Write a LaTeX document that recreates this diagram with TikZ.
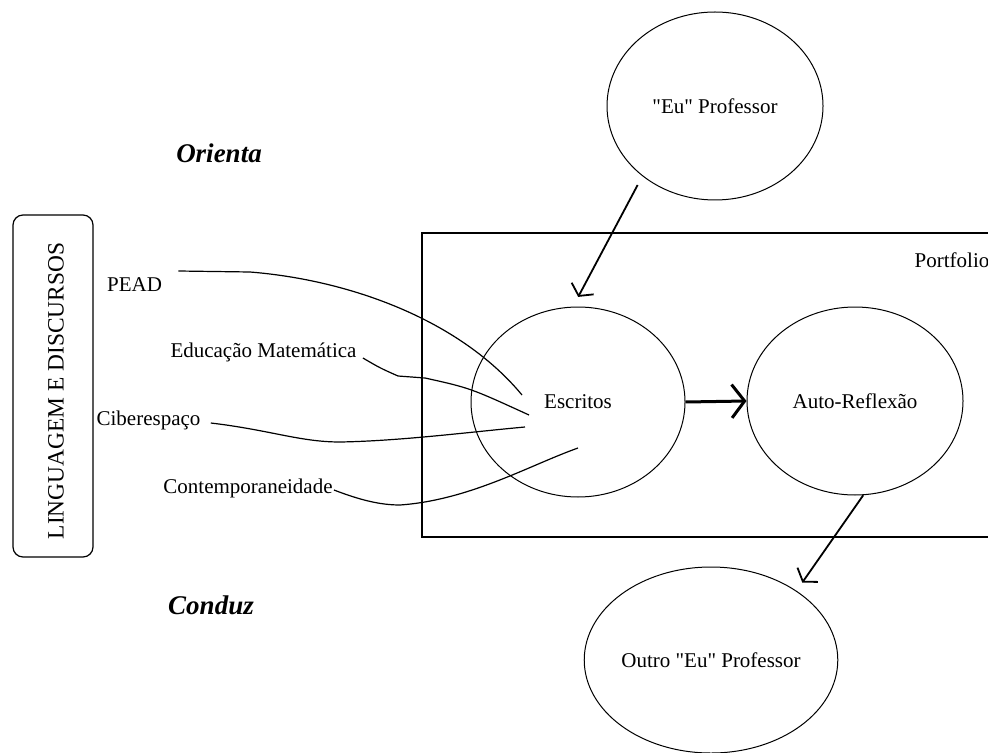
\documentclass[tikz,border=0pt]{standalone}
\usepackage{fontspec}
\setmainfont{Liberation Serif}
\usetikzlibrary{arrows.meta,shapes.geometric}

\begin{document}
\begin{tikzpicture}[x=0.5pt,y=-0.5pt,
    bola/.style={draw, ellipse, line width=0.5pt, inner sep=0pt, font=\fontsize{10.5}{12}\selectfont},
    rotulo/.style={inner sep=0pt, font=\fontsize{10.5}{12}\selectfont},
    verbo/.style={inner sep=0pt, font=\fontsize{13.5}{15}\selectfont\bfseries\itshape},
    fio/.style={line width=0.6pt},
    seta/.style={line width=0.9pt, -{Straight Barb[angle=112:7.5pt]}}]
    \useasboundingbox (0,0) rectangle (988,753);

    % caixa lateral
    \node[draw, rounded corners=5pt, minimum width=40pt, minimum height=171pt, line width=0.6pt] (ling) at (53,386) {};
    \node[rotate=90, inner sep=0pt, font=\fontsize{11.7}{13}\selectfont] (lingtxt) at (56,391) {LINGUAGEM E DISCURSOS};

    % verbos
    \node[verbo] (orienta) at (219,153) {Orienta};
    \node[verbo] (conduz) at (211,605) {Conduz};

    % moldura do portfolio
    \draw[line width=0.7pt] (995,233) -- (422,233) -- (422,537) -- (995,537);
    \node[rotulo] (port) at (952,260) {Portfolio};

    % elipses
    \node[bola, minimum width=108pt, minimum height=94pt] (eu) at (715,106) {\textquotedbl Eu\textquotedbl{} Professor};
    \node[bola, minimum width=107pt, minimum height=95pt] (esc) at (578,402) {Escritos};
    \node[bola, minimum width=108pt, minimum height=94pt] (auto) at (855,401) {Auto-Reflexão};
    \node[bola, minimum width=108pt, minimum height=93pt] (outro) at (711,660) {Outro \textquotedbl Eu\textquotedbl{} Professor};

    % temas
    \node[rotulo] (pead) at (134.5,285) {PEAD};
    \node[rotulo] (edu) at (263.5,352) {Educação Matemática};
    \node[rotulo] (ciber) at (148.5,420) {Ciberespaço};
    \node[rotulo] (contemp) at (248,488) {Contemporaneidade};

    % pontas dentro dos escritos
    \coordinate (pe) at ([shift={(-56,-7)}]esc.center);
    \coordinate (ed) at ([shift={(-49,13)}]esc.center);
    \coordinate (ci) at ([shift={(-53,25)}]esc.center);
    \coordinate (co) at ([shift={(0,46)}]esc.center);

    % fios
    \draw[fio] ([shift={(16,-14)}]pead.east) -- (250,272) .. controls (350,280) and (460,320) .. (pe);
    \draw[fio] ([shift={(6,6)}]edu.east) .. controls (380,368) .. (398,376) -- (425,378) .. controls (470,388) .. (ed);
    \draw[fio] ([shift={(10,3)}]ciber.east) .. controls (270,430) and (300,442) .. (340,442) .. controls (400,441) and (470,432) .. (ci);
    \draw[fio] ([shift={(1,2)}]contemp.east) .. controls (360,500) and (380,505) .. (400,505) .. controls (470,500) and (530,465) .. (co);

    % setas
    \draw[seta, shorten <=5pt, shorten >=5.5pt] (eu.224) -- (esc.93);
    \draw[seta, line width=1.5pt, -{Straight Barb[angle=105:10.5pt]}] (esc.east) -- (auto.west);
    \draw[seta, shorten >=5pt] (auto.275) -- (outro.39);
\end{tikzpicture}
\end{document}
